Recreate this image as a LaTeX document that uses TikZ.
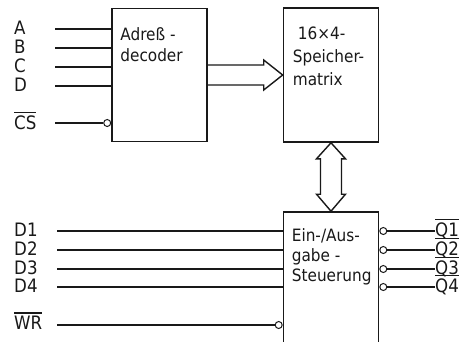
\documentclass[tikz,border=0pt]{standalone}
\usepackage{fontspec}
\setmainfont{DejaVu Sans Condensed}
\usetikzlibrary{calc}
\definecolor{ink}{RGB}{25,25,25}
\newcommand\negsig[1]{\setbox0\hbox{#1}\rlap{\rule[\dimexpr\ht0+2pt\relax]{\wd0}{1.3pt}}\box0}
\tikzset{
  block/.style={draw=ink,line width=1.6pt,minimum width=95pt,minimum height=#1,inner sep=0pt},
  block/.default=133pt,
  blocktext/.style={anchor=north west,align=left,font=\fontsize{17}{#1}\selectfont,text=ink,inner sep=0pt},
  blocktext/.default=21pt,
  sig/.style={draw=ink,line width=1.3pt},
  inv/.style={circle,draw=ink,fill=white,line width=1pt,minimum size=7pt,inner sep=0pt},
  pin/.style={anchor=base west,font=\fontsize{18.5}{18.5}\selectfont,text=ink,inner sep=0pt},
  bus/.style={draw=ink,line width=1.4pt,line join=miter},
}
\begin{document}
\begin{tikzpicture}[x=1pt,y=-1pt]
  \clip (0,0) rectangle (467,341);
  % blocks
  \node[block] (dec) at (159.5,75) {};
  \node[block=134pt] (mat) at (331,75) {};
  \node[block=160pt] (io) at (331,292) {};
  \node[blocktext] (dectxt) at ($(dec.north west)+(9,20)$) {Adreß -\\decoder};
  \node[blocktext=23pt] (mattxt) at ($(mat.north west)+(10,19)$) {\hspace{5pt}16×4-\\Speicher-\\matrix};
  \node[blocktext=20pt] (iotxt) at ($(io.north west)+(9,17)$) {Ein-/Aus-\\gabe -\\Steuerung};
  % address inputs
  \foreach \s/\y in {A/29,B/48,C/67,D/86} {
    \node[pin] (l\s) at (14,\y+5) {\s};
    \coordinate (i\s) at (55,\y);
    \draw[sig] (i\s) -- (i\s -| dec.west);
  }
  \node[pin] (lcs) at (14,129) {\negsig{CS}};
  \node[inv,anchor=east] (csinv) at (dec.west |- 0,123) {};
  \coordinate (ics) at (55,123);
  \draw[sig] (ics) -- (csinv.west);
  % data lines
  \foreach \n/\y in {1/231,2/250,3/269,4/287} {
    \node[pin] (ld\n) at (14,\y+5) {D\n};
    \coordinate (id\n) at (57,\y);
    \draw[sig] (id\n) -- (id\n -| io.west);
    \node[inv,anchor=west] (qinv\n) at (io.east |- 0,\y) {};
    \node[pin] (lq\n) at (435,\y+5) {\negsig{Q\n}};
    \draw[sig] (qinv\n) -- (lq\n.west |- qinv\n);
  }
  \node[pin] (lwr) at (14,329) {\negsig{WR}};
  \node[inv,anchor=east] (wrinv) at (io.west |- 0,325) {};
  \coordinate (iwr) at (57,325);
  \draw[sig] (iwr) -- (wrinv.west);
  % bus arrows
  \draw[bus] ($(dec.east)+(0,-10)$) -- ($(mat.west)+(-19,-10)$) -- ($(mat.west)+(-19,-15)$)
    -- (mat.west) -- ($(mat.west)+(-19,15)$) -- ($(mat.west)+(-19,10)$) -- ($(dec.east)+(0,10)$);
  \draw[bus] (mat.south) -- ++(14.5,16) -- ++(-4,0) -- ($(io.north)+(10.5,-17)$) -- ++(4,0)
    -- (io.north) -- ++(-14.5,-17) -- ++(4,0) -- ($(mat.south)+(-10.5,16)$) -- ++(-4,0) -- cycle;
\end{tikzpicture}
\end{document}
